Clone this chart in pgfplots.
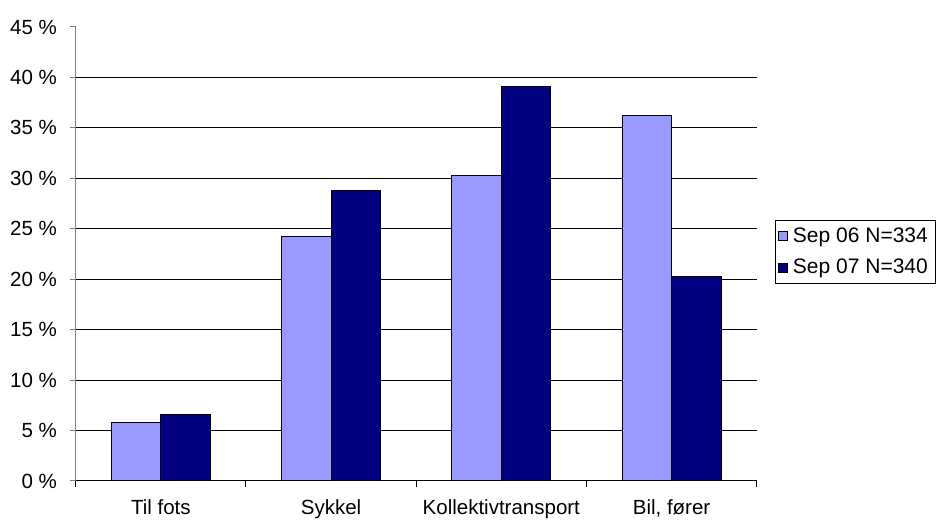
\documentclass[border=0pt]{standalone}
\usepackage{fontspec}
\setmainfont{Liberation Sans}
\usepackage{pgfplots}
\pgfplotsset{compat=1.18}

\definecolor{sepA}{HTML}{9999FF}
\definecolor{sepB}{HTML}{000080}
\definecolor{axisgray}{HTML}{808080}

\begin{document}
\fontsize{20}{24}\selectfont
\begin{tikzpicture}[x=1pt,y=1pt]
\path[use as bounding box] (0,0) rectangle (939,521);
\begin{axis}[
  at={(75.7pt,40pt)}, anchor=south west,
  scale only axis,
  width=681pt, height=454pt,
  xmin=-0.5, xmax=3.5,
  ymin=0, ymax=45,
  ybar=0pt, bar width=49.5pt,
  axis lines*=left,
  axis line style={draw=axisgray, line width=1pt},
  x axis line style={draw=black},
  xtick={0,1,2,3},
  xticklabels={Til fots, Sykkel, Kollektivtransport, {Bil, fører}},
  major x tick style={draw=none},
  minor xtick={-0.5,0.5,1.5,2.5,3.5},
  minor x tick style={draw=black, line width=1pt},
  minor tick length=6pt,
  xticklabel style={yshift=-6pt, font=\fontsize{20.5}{24}\selectfont},
  ytick={0,5,...,45},
  yticklabels={0 \%,5 \%,10 \%,15 \%,20 \%,25 \%,30 \%,35 \%,40 \%,45 \%},
  yticklabel style={font=\fontsize{20.5}{24}\selectfont, xshift=-6pt},
  major y tick style={draw=axisgray, line width=1pt},
  major tick length=6pt,
  tick align=outside,
  extra y ticks={5,10,15,20,25,30,35,40},
  extra y tick labels={},
  extra y tick style={grid=major, major tick length=0pt},
  grid style={draw=black, line width=1pt},
  /pgf/number format/assume math mode=true,
  legend style={
    at={(1.0264,0.5749)}, anchor=north west,
    draw=black, line width=1pt,
    font=\fontsize{21}{25}\selectfont,
    inner xsep=3pt, inner ysep=7pt,
    row sep=14pt,
    nodes={inner xsep=5pt, inner ysep=0pt},
    legend cell align=left,
  },
  legend image code/.code={
    \draw[#1, draw=black, line width=0.8pt] (0pt,-4.5pt) rectangle (9pt,4.5pt);
  },
  clip=false,
]
\addplot[fill=sepA, draw=black, line width=1pt] coordinates {
  (0,5.8) (1,24.2) (2,30.3) (3,36.2)
};
\addplot[fill=sepB, draw=black, line width=1pt] coordinates {
  (0,6.6) (1,28.8) (2,39.1) (3,20.3)
};
\legend{Sep 06 N=334, Sep 07 N=340}
\end{axis}
\end{tikzpicture}
\end{document}
